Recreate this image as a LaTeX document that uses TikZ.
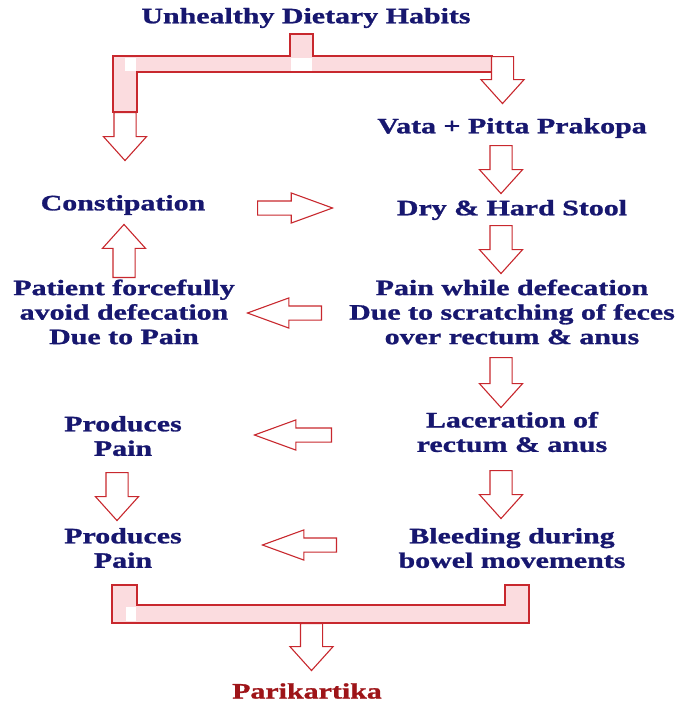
\documentclass[tikz,border=0pt]{standalone}
\usepackage{fontspec}
\usepackage{xcolor}
\usepackage{tikz}
\usetikzlibrary{shapes.arrows}
\setmainfont{Liberation Serif}[FakeStretch=1.36, BoldFeatures={FakeBold=1.2}]
\definecolor{navy}{HTML}{17176F}
\definecolor{arrowred}{HTML}{C8282E}
\definecolor{blush}{HTML}{FBDCDF}
\definecolor{wine}{HTML}{9E1418}

\begin{document}
\begin{tikzpicture}[x=1pt, y=-1pt,
      label/.style={text=navy, align=center, inner sep=0pt,
                    font=\fontsize{22}{24.5}\selectfont\bfseries},
      downarrow/.style={single arrow, draw=arrowred, fill=white, line width=1.1pt,
                        rotate=-90, anchor=tail, inner sep=10.5pt, minimum width=0pt,
                        single arrow head extend=10.5pt, single arrow tip angle=84},
      uparrow/.style={downarrow, rotate=180},
      sidearrow/.style={single arrow, draw=arrowred, fill=white, line width=1.1pt,
                        anchor=tail, inner sep=6.5pt, minimum width=0pt, minimum height=75pt,
                        single arrow head extend=8pt, single arrow tip angle=40},
      leftarrow/.style={sidearrow, shape border rotate=180},
      bracket/.style={draw=arrowred, fill=blush, line width=1.1pt}]
    \useasboundingbox (0,0) rectangle (678,702);
    % texts
    \node[label] (habits)  at (306,18)  {Unhealthy Dietary Habits};
    \node[label] (vata)    at (512,128) {Vata + Pitta Prakopa};
    \node[label] (stool)   at (512,210) {Dry \& Hard Stool};
    \node[label] (pain)    at (512,312) {Pain while defecation\\Due to scratching of feces\\over rectum \& anus};
    \node[label] (lacer)   at (512,432) {Laceration of\\rectum \& anus};
    \node[label] (bleed)   at (512,548) {Bleeding during\\bowel movements};
    \node[label] (constip) at (123,205) {Constipation};
    \node[label] (avoid)   at (124,312) {Patient forcefully\\avoid defecation\\Due to Pain};
    \node[label] (prod1)   at (123,436) {Produces\\Pain};
    \node[label] (prod2)   at (123,548) {Produces\\Pain};
    \node[label, text=wine] (parik) at (307,691) {Parikartika};
    % top bracket
    \draw[bracket] (290,34) -- (313,34) -- (313,56) -- (492,56) -- (492,72)
      -- (137,72) -- (137,112) -- (113,112) -- (113,56) -- (290,56) -- cycle;
    \fill[white] (125,58) rectangle (136,71);
    \fill[white] (291,58) rectangle (312,71);
    \node[downarrow, minimum height=47pt] (split1) at (502.5,56) {};
    \node[downarrow, minimum height=48pt] (split2) at (125,112) {};
    % right column
    \node[downarrow, minimum height=48pt] (a1) at (501,145) {};
    \node[downarrow, minimum height=48pt] (a2) at (501,225) {};
    \node[downarrow, minimum height=50pt] (a3) at (501,357) {};
    \node[downarrow, minimum height=48pt] (a4) at (501,470) {};
    % left column
    \node[uparrow, minimum height=53pt] (b1) at (124,278) {};
    \node[downarrow, minimum height=48pt] (b2) at (117,472) {};
    % across
    \node[sidearrow] (c1) at (257,208) {};
    \node[leftarrow, minimum height=74pt] (c2) at (322,313) {};
    \node[leftarrow, minimum height=77pt] (c3) at (332,435) {};
    \node[leftarrow, minimum height=74pt] (c4) at (337,545) {};
    % bottom bracket
    \draw[bracket] (112,585) -- (137,585) -- (137,605) -- (505,605) -- (505,585)
      -- (529,585) -- (529,623) -- (112,623) -- cycle;
    \fill[white] (126,607) rectangle (136,621);
    \node[downarrow, minimum height=47pt] (join) at (311.5,623) {};
  \end{tikzpicture}
\end{document}
